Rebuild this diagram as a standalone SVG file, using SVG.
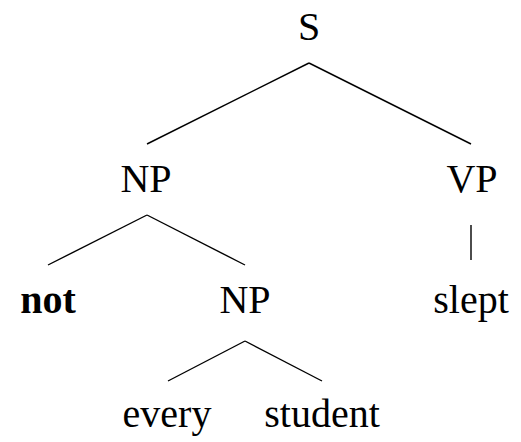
<svg xmlns="http://www.w3.org/2000/svg" width="521" height="442" viewBox="0 0 521 442">
<style>
text{font-family:"Times New Roman",Times,"Liberation Serif","DejaVu Serif","Noto Serif",serif;font-size:40px;fill:#000;text-anchor:middle}
.b{font-weight:bold}
#edges line{stroke:#000;stroke-width:1.4;stroke-linecap:butt}
</style>
<rect width="521" height="442" fill="#fff"/>
<g id="edges">
<line x1="309" y1="63" x2="147" y2="144"/>
<line x1="309" y1="63" x2="471" y2="144"/>
<line x1="147" y1="215" x2="48" y2="265"/>
<line x1="147" y1="215" x2="245" y2="265"/>
<line x1="471" y1="225" x2="471" y2="260"/>
<line x1="245" y1="341" x2="168" y2="381"/>
<line x1="245" y1="341" x2="322" y2="381"/>
</g>
<g id="S"><text x="309" y="40">S</text></g>
<g id="NP1"><text x="146" y="192">NP</text></g>
<g id="VP"><text x="472" y="192">VP</text></g>
<g id="not"><text class="b" x="48" y="313">not</text></g>
<g id="NP2"><text x="245" y="313">NP</text></g>
<g id="slept"><text x="471" y="313">slept</text></g>
<g id="every"><text x="167" y="427">every</text></g>
<g id="student"><text x="322" y="427">student</text></g>
</svg>
